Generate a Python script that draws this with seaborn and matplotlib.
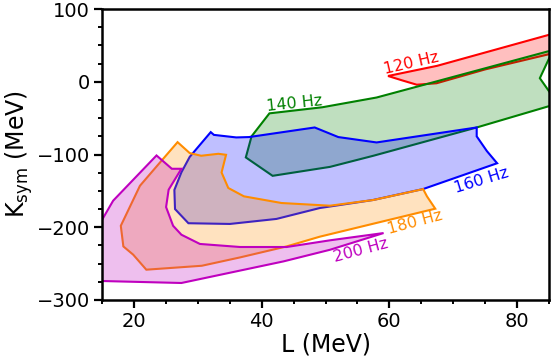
import matplotlib
matplotlib.use("Agg")
import matplotlib.pyplot as plt
import matplotlib.ticker as ticker
from matplotlib.colors import to_rgba
import seaborn as sns

# polygon outlines (L, Ksym in MeV)
L_120 = [59.8, 67.5, 86.0, 86.0, 75.0, 67.4, 64.3, 62.0]
K_120 = [8.0, 22.0, 67.0, 40.0, 17.0, -2.0, -4.0, 2.0]

L_140 = [41.2, 49.5, 58.0, 66.4, 84.8, 85.6, 83.6, 85.6, 86.0, 73.7, 57.5, 50.7, 41.7, 37.5, 38.4]
K_140 = [-43.4, -35.0, -21.6, -1.8, 41.7, 42.5, 5.0, -20.0, -31.0, -62.8, -101.7, -117.0, -129.3, -104.0, -75.0]

L_160 = [32.0, 32.5, 36.0, 38.0, 48.3, 52.0, 58.0, 73.7, 73.7, 75.3, 76.9, 65.3, 57.5, 49.1,
         42.3, 35.0, 28.5, 26.4, 26.3, 27.4, 28.7]
K_160 = [-69.2, -73.0, -76.5, -76.0, -62.8, -76.0, -83.4, -62.8, -75.0, -95.3, -112.0, -147.5, -162.5, -173.6,
         -188.6, -195.5, -194.5, -175.0, -148.7, -124.5, -103.3]

L_180 = [26.8, 28.7, 30.5, 33.2, 34.4, 33.7, 34.75, 37.2, 43.1, 50.7, 57.5, 65.3, 65.9, 67.2,
         49.1, 43.9, 36.6, 30.6, 21.9, 19.85, 18.3, 17.9, 20.9, 24.0]
K_180 = [-83.0, -98.0, -101.7, -99.0, -100.4, -124.7, -146.0, -157.5, -166.7, -170.4, -162.5, -147.5, -157.5, -174.5,
         -213.0, -226.4, -241.5, -253.0, -258.4, -237.8, -226.4, -198.0, -143.0, -111.4]

L_200 = [23.5, 25.9, 27.4, 25.4, 25.0, 26.1, 27.4, 30.3, 36.6, 43.9, 50.7, 59.1,
         50.7, 43.4, 27.4, 15.1, 14.0, 14.0, 15.1, 16.7]
K_200 = [-101.3, -119.6, -119.6, -148.4, -172.3, -198.0, -210.3, -223.0, -227.2, -227.2, -218.0, -208.0,
         -231.0, -247.0, -276.7, -274.0, -274.5, -204.0, -187.7, -163.5]

regions = [
    ("120 Hz", L_120, K_120, "#FF0000", (63.45, 25.2), 13),
    ("140 Hz", L_140, K_140, "#008000", (45.2, -29.3), 6),
    ("160 Hz", L_160, K_160, "#0000FF", (74.5, -135.7), 17),
    ("180 Hz", L_180, K_180, "#FF8C00", (64.1, -193.4), 15),
    ("200 Hz", L_200, K_200, "#BF00BF", (55.5, -231.9), 15),
]

sns.set_theme(style="ticks")
plt.rcParams["font.family"] = ["DejaVu Sans"]

fig, ax = plt.subplots(figsize=(5.56, 3.64), dpi=100)
fig.subplots_adjust(left=0.184, right=0.987, top=0.975, bottom=0.176)

for label, xs, ys, color, pos, rot in regions:
    ax.fill(xs, ys, facecolor=to_rgba(color, 0.25), edgecolor=color, linewidth=1.5)
    ax.text(pos[0], pos[1], label, color=color, fontsize=11.5, rotation=rot,
            ha="center", va="center", rotation_mode="anchor")

ax.set_xlim(15, 85)
ax.set_ylim(-300, 100)
ax.xaxis.set_major_locator(ticker.MultipleLocator(20))
ax.xaxis.set_minor_locator(ticker.MultipleLocator(5))
ax.yaxis.set_major_locator(ticker.MultipleLocator(100))
ax.yaxis.set_minor_locator(ticker.MultipleLocator(25))
ax.tick_params(which="major", length=6, width=1.6, labelsize=14, pad=3,
               color="black", labelcolor="black")
ax.tick_params(which="minor", length=3, width=1.4, color="black")
for spine in ax.spines.values():
    spine.set_visible(True)
    spine.set_linewidth(1.8)
    spine.set_color("black")

ax.set_xlabel("L (MeV)", fontsize=17, color="black", labelpad=1)
ax.set_ylabel(r"K$_{\rm sym}$ (MeV)", fontsize=17, color="black", labelpad=1)

fig.savefig("out.png", dpi=100)
